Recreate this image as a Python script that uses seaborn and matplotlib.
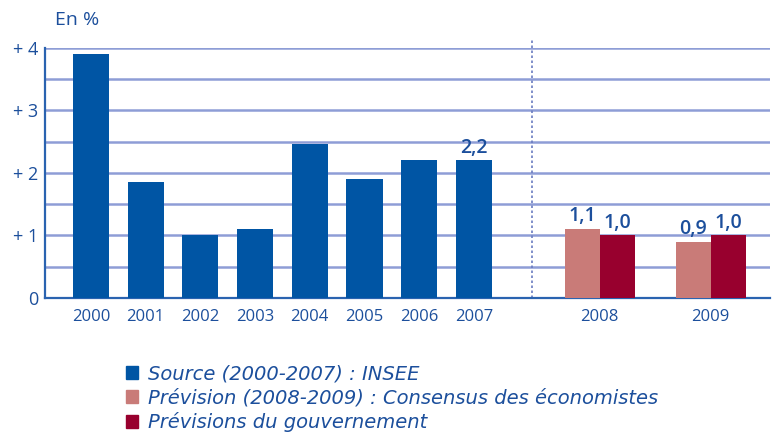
"""
Croissance du PIB : historique INSEE et prévisions 2008-2009.
"""

import numpy as np
import matplotlib
matplotlib.use("Agg")
import matplotlib.pyplot as plt
import matplotlib.patches as mpatches
import seaborn as sns

# ──────────────────────────────────────────────
# Data
# ──────────────────────────────────────────────

hist_years = ["2000", "2001", "2002", "2003", "2004", "2005", "2006", "2007"]
insee = [3.9, 1.85, 1.0, 1.1, 2.47, 1.9, 2.2, 2.2]

fc_years = ["2008", "2009"]
consensus = [1.1, 0.9]
gouvernement = [1.0, 1.0]

y_ticks = [0, 1, 2, 3, 4]
y_labels = ["0", "+ 1", "+ 2", "+ 3", "+ 4"]

legend_labels = [
    "Source (2000-2007) : INSEE",
    "Prévision (2008-2009) : Consensus des économistes",
    "Prévisions du gouvernement",
]

# ──────────────────────────────────────────────
# Style
# ──────────────────────────────────────────────

BLUE = "#0055a4"
PINK = "#c97b78"
RED = "#98002e"
TXT = "#1c4f9c"
GRID = "#8e9dd6"
SPINE = "#2a63b0"

sns.set_style("white")
FONT = ["Open Sans", "DejaVu Sans"]
plt.rcParams["font.family"] = FONT

fig = plt.figure(figsize=(7.76, 4.40), dpi=100)
ax = fig.add_axes([0.058, 0.323, 0.934, 0.568])

# layout of the x positions
hist_pos = np.arange(len(hist_years), dtype=float)
fc_center = np.array([9.3, 11.33])
half = 0.32
fc_width = 0.64 / (fc_center[1] - fc_center[0])

bar_kw = dict(native_scale=True, saturation=1, linewidth=0, ax=ax, zorder=3)
sns.barplot(x=hist_pos, y=insee, width=0.66, color=BLUE, **bar_kw)
sns.barplot(x=fc_center - half, y=consensus, width=fc_width, color=PINK, **bar_kw)
sns.barplot(x=fc_center + half, y=gouvernement, width=fc_width, color=RED, **bar_kw)

def fmt(v):
    return f"{v:.1f}".replace(".", ",")

lab_kw = dict(padding=2, color=TXT, fontsize=14, fontweight="semibold")
ax.bar_label(ax.containers[0],
             labels=[""] * (len(insee) - 1) + [fmt(insee[-1])], **lab_kw)
ax.bar_label(ax.containers[1], labels=[fmt(v) for v in consensus], **lab_kw)
ax.bar_label(ax.containers[2], labels=[fmt(v) for v in gouvernement], **lab_kw)

# axes
ax.set_xlim(-0.84, 12.41)
ax.set_ylim(0, 4)
ax.set_yticks(y_ticks)
ax.set_yticklabels(y_labels)
ax.set_yticks(np.arange(0.5, 4, 1.0), minor=True)
ax.set_xticks(list(hist_pos) + list(fc_center))
ax.set_xticklabels(hist_years + fc_years)
ax.tick_params(axis="x", length=0, pad=8, labelsize=12, labelcolor=TXT)
ax.tick_params(axis="y", which="both", direction="in", length=5, width=1.5,
               color=SPINE, labelsize=13, labelcolor=TXT, pad=5)
ax.grid(axis="y", which="both", color=GRID, linewidth=1.8, zorder=0)
ax.set_axisbelow(True)

for s in ["top", "right"]:
    ax.spines[s].set_visible(False)
for s in ["left", "bottom"]:
    ax.spines[s].set_color(SPINE)
    ax.spines[s].set_linewidth(1.6)

# separation between history and forecasts
ax.axvline(8.07, ymin=0, ymax=1.04, color="#6a7cc0", linewidth=1.2,
           linestyle=(0, (1.5, 1.5)), clip_on=False, zorder=1)

fig.text(0.071, 0.955, "En %", color=TXT, fontsize=14, va="center")

handles = [mpatches.Patch(color=c) for c in (BLUE, PINK, RED)]
leg = fig.legend(handles, legend_labels, loc="upper left",
                 bbox_to_anchor=(0.152, 0.19), frameon=False,
                 handlelength=0.65, handleheight=0.65, handletextpad=0.5,
                 labelspacing=0.25, borderaxespad=0,
                 prop={"family": ["DejaVu Sans"],
                       "style": "italic", "size": 14})
for t in leg.get_texts():
    t.set_color(TXT)

fig.savefig("out.png", dpi=100)
